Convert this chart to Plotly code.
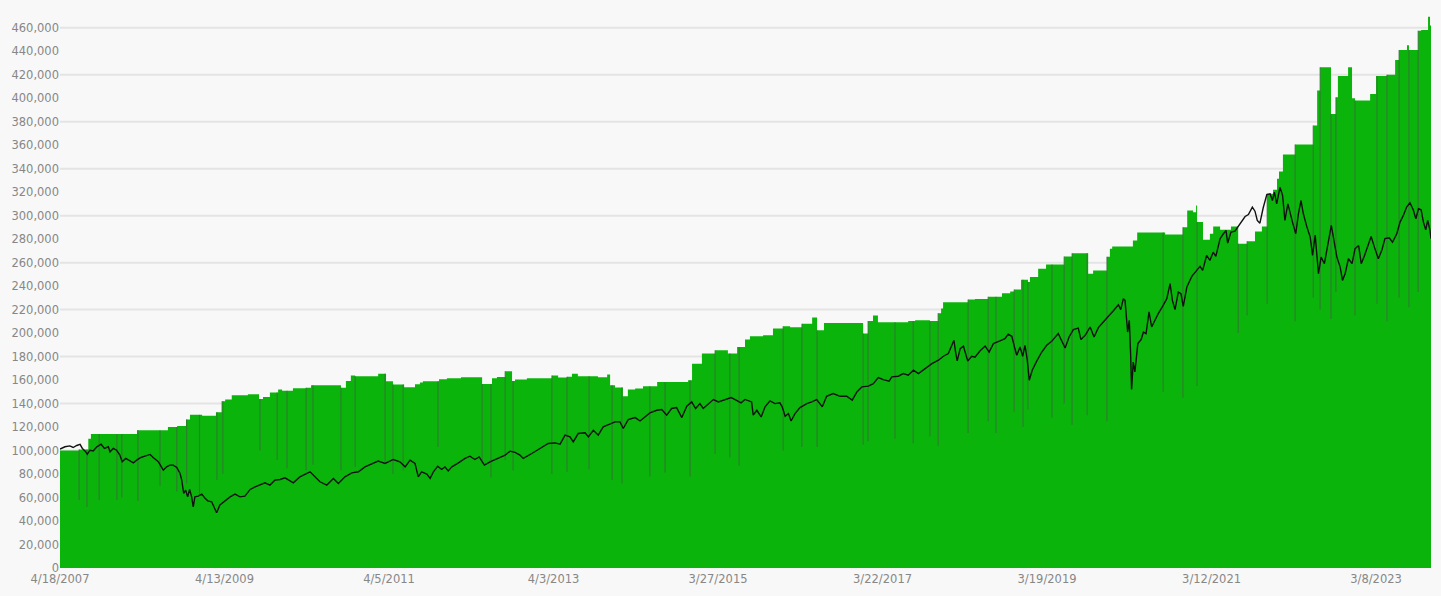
import bisect
import plotly.graph_objects as go

# ---------------- data ----------------
# x axis: trading-day number counted from 4/18/2007 (category-like axis)
tick_days = [0, 500, 1000, 1500, 2000, 2500, 3000, 3500, 4000]
tick_labels = ["4/18/2007", "4/13/2009", "4/5/2011", "4/3/2013", "3/27/2015",
               "3/22/2017", "3/19/2019", "3/12/2021", "3/8/2023"]
last_day = 4167

y_tick_values = list(range(0, 460001, 20000))
grid_values = list(range(20000, 460001, 40000))

# portfolio value: level that holds from the given trading day on
step_day = [0, 58, 86, 94, 234, 328, 356, 383, 395, 432, 474, 491, 502, 522, 571, 605, 617, 638,
            663, 675, 708, 748, 763, 854, 869, 884, 897, 967, 991, 1012, 1046, 1079, 1094, 1103,
            1152, 1176, 1219, 1283, 1313, 1328, 1353, 1374, 1383, 1419, 1495, 1514, 1541, 1556,
            1574, 1635, 1663, 1672, 1687, 1711, 1726, 1748, 1772, 1815, 1909, 1921, 1951, 1991,
            2030, 2058, 2082, 2097, 2137, 2167, 2198, 2219, 2255, 2286, 2301, 2322, 2441, 2456,
            2471, 2486, 2578, 2599, 2644, 2669, 2678, 2684, 2760, 2781, 2821, 2863, 2888, 2900,
            2921, 2942, 2948, 2973, 2997, 3052, 3076, 3125, 3140, 3182, 3191, 3198, 3261, 3274,
            3359, 3413, 3426, 3444, 3453, 3456, 3474, 3495, 3505, 3526, 3559, 3581, 3608, 3632,
            3653, 3669, 3687, 3699, 3705, 3717, 3754, 3809, 3821, 3830, 3863, 3878, 3884, 3915,
            3927, 3936, 3982, 4000, 4033, 4058, 4070, 4094, 4100, 4128, 4137, 4158, 4164, 4167]
step_value = [100000, 101000, 110000, 114000, 117300, 120000, 121000, 126400, 130400, 129600,
              132600, 142000, 143400, 147000, 148000, 144000, 145600, 149400,
              152000, 151000, 153000, 153500, 155600, 153500, 159300, 163800, 163300, 165500,
              159000, 156200, 153900, 156500, 158000, 159000,
              160700, 161600, 162400, 156700, 161600, 162700, 167500, 159300, 160400, 161600,
              164000, 162200, 162800, 165500,
              163300, 162500, 164700, 155600, 153600, 146200, 152000, 152800, 154800, 158400,
              159900, 174000, 182600, 185400,
              182600, 188200, 194500, 197300, 198100, 204000, 205800, 204900, 208000, 213200,
              202400, 208600, 199600, 210300,
              214900, 209200, 210300, 210900, 210300, 217000, 221000, 226200, 228700, 229000,
              231000, 234000, 235500, 237200,
              245500, 243600, 247700, 254800, 258500, 265300, 268100, 250600, 253400, 265000,
              271800, 273800, 278900, 285700,
              284000, 290200, 304400, 303000, 308700, 294500, 279500, 284600, 290800, 288000,
              290800, 276000, 278300, 286600,
              290800, 318600, 322000, 331400, 337600, 352000, 360500, 376700, 406500, 426300,
              386600, 400800, 419000, 426300,
              400000, 398000, 403600, 419000, 420000, 432600, 441000, 445000, 441000, 457500,
              458000, 469400, 462000, 462000]

# single-day drops of the portfolio value (trading day, low value)
dip_day = [58, 82, 119, 173, 188, 237, 304, 355, 385, 424, 477, 495,
           608, 660, 690, 748, 769, 854, 897, 988, 1012, 1043,
           1149, 1283, 1310, 1353, 1377, 1495,
           1541, 1608, 1678, 1708, 1793, 1839, 1915, 1991,
           2036, 2064, 2198, 2255, 2301, 2441, 2456, 2538, 2593, 2644, 2669, 2760,
           2821, 2845, 2900, 2927, 2942, 3015, 3052, 3076, 3122, 3182, 3353, 3413, 3456,
           3581, 3608, 3669, 3754, 3809, 3830, 3863, 3878, 3936, 4003, 4033, 4070, 4100, 4128]
dip_low = [58000, 52000, 58000, 58000, 60000, 57000, 70000, 65000, 72000, 62000, 75000, 80000,
           100000, 92000, 85000, 83000, 88000, 83000, 86000, 89000, 80000, 83000,
           103000, 89000, 77000, 92000, 83000, 80000,
           82000, 84000, 75000, 72000, 78000, 81000, 78000, 97000,
           94000, 87000, 100000, 103000, 103000, 105000, 108000, 110000, 106000, 112000, 104000, 115000,
           125000, 115000, 133000, 120000, 135000, 128000, 140000, 122000, 130000, 125000, 150000, 145000, 155000,
           200000, 215000, 225000, 210000, 230000, 220000, 212000, 235000, 215000, 225000, 210000, 230000, 222000, 235000]

# benchmark line
bench_day = [0, 15, 30, 40, 51, 61, 68, 76, 83, 91, 101, 112, 125, 135, 147, 152, 162, 172, 182, 189,
             200, 210, 223, 233, 246, 258, 274, 284, 299, 314, 324, 334, 344, 355, 365, 370, 376, 382, 388, 394,
             400, 405, 410, 420, 431, 441, 449, 461, 469, 476, 486, 502, 517, 532, 547, 562, 578, 593, 608, 623,
             638, 653, 669, 684, 709, 729, 760, 775, 790, 811, 831, 846, 866, 887, 907, 927, 947, 967, 988, 1013,
             1033, 1049, 1064, 1079, 1089, 1099, 1115, 1125, 1135, 1148, 1160, 1170, 1180, 1191, 1211, 1231, 1246, 1261, 1274, 1290,
             1307, 1322, 1337, 1353, 1368, 1383, 1398, 1408, 1434, 1459, 1484, 1505, 1520, 1535, 1550, 1560, 1575, 1596, 1606, 1621,
             1636, 1651, 1672, 1687, 1702, 1712, 1727, 1748, 1763, 1778, 1793, 1814, 1829, 1844, 1859, 1874, 1890, 1905, 1920, 1932,
             1945, 1955, 1971, 1986, 2001, 2021, 2040, 2052, 2070, 2082, 2097, 2102, 2107, 2118, 2131, 2143, 2158, 2173, 2188, 2195,
             2204, 2214, 2222, 2234, 2249, 2270, 2285, 2300, 2317, 2330, 2350, 2371, 2391, 2408, 2422, 2437, 2457, 2472, 2487, 2502,
             2520, 2528, 2548, 2563, 2578, 2594, 2609, 2629, 2650, 2670, 2685, 2700, 2710, 2717, 2722, 2727, 2736, 2746, 2751, 2759,
             2771, 2781, 2796, 2812, 2824, 2837, 2857, 2872, 2882, 2893, 2901, 2908, 2918, 2926, 2933, 2940, 2946, 2955, 2969, 2984,
             2999, 3014, 3034, 3046, 3055, 3067, 3080, 3095, 3103, 3116, 3131, 3143, 3156, 3171, 3186, 3201, 3217, 3224, 3232, 3237,
             3245, 3250, 3254, 3257, 3262, 3267, 3276, 3286, 3293, 3301, 3310, 3318, 3328, 3338, 3353, 3364, 3374, 3381, 3389, 3399,
             3407, 3414, 3425, 3440, 3455, 3465, 3473, 3485, 3495, 3505, 3513, 3526, 3536, 3544, 3549, 3559, 3571, 3579, 3592, 3602,
             3612, 3624, 3632, 3639, 3647, 3657, 3668, 3678, 3685, 3691, 3698, 3708, 3716, 3723, 3732, 3739, 3746, 3756, 3764, 3772,
             3779, 3790, 3800, 3807, 3815, 3825, 3833, 3843, 3854, 3864, 3872, 3881, 3891, 3898, 3906, 3916, 3927, 3936, 3947, 3955,
             3965, 3977, 3985, 3995, 4007, 4018, 4027, 4040, 4050, 4063, 4073, 4083, 4093, 4103, 4113, 4121, 4129, 4137, 4144, 4151,
             4157, 4164, 4167]
bench_value = [101200, 103200, 104000, 102600, 104300, 105200, 101800, 99700, 96900, 100300, 99700, 103200, 105400, 101800, 103200, 98900, 101800, 100300, 96100, 90400,
               93300, 91800, 89500, 91800, 94100, 95200, 96700, 93800, 90400, 83300, 86100, 87600, 87600, 85600, 80500, 74800, 63500, 66300, 60600, 66900,
               60600, 52100, 60600, 61200, 62900, 59300, 57200, 56400, 52100, 47000, 53600, 57200, 60600, 62900, 60600, 61200, 66900, 69100, 70600, 72500,
               70600, 74800, 75400, 76800, 72500, 77600, 81900, 77600, 73400, 70600, 76300, 72000, 77600, 81000, 81900, 86100, 88400, 91000, 89000, 92400,
               90400, 86100, 91800, 89000, 77600, 81900, 79900, 76300, 81900, 86700, 83900, 86100, 82700, 86100, 89500, 93300, 95200, 92400, 94600, 87600,
               90400, 92400, 94100, 96100, 99500, 98500, 96100, 93300, 97500, 101800, 106000, 106500, 105400, 113100, 111600, 107400, 114500, 115100, 111600, 117300,
               113100, 120200, 122400, 124400, 124400, 118800, 126400, 128100, 125200, 128600, 132000, 134300, 134900, 130100, 135800, 136600, 128100, 137700, 141400, 135800,
               140000, 135800, 139400, 143400, 141400, 143400, 145100, 143400, 140600, 143500, 142300, 141400, 130100, 134300, 128600, 137200, 142300, 140000, 140600, 137200,
               129200, 131500, 125200, 131500, 136600, 140000, 141400, 143400, 137200, 146200, 148500, 146200, 146200, 142900, 149900, 154200, 154800, 157000, 162200, 160400,
               159000, 162700, 163300, 165500, 164100, 168400, 165500, 169800, 174000, 176900, 180300, 182600, 189600, 193900, 183900, 176300, 186800, 188800, 183900, 176300,
               180300, 179500, 184800, 189000, 183900, 191100, 193300, 195300, 199000, 197300, 188200, 181100, 188200, 180300, 189600, 176900, 159900, 168400, 176300, 183900,
               189600, 193000, 199600, 192400, 187300, 196700, 203000, 204300, 194500, 198100, 205200, 196700, 204700, 209400, 213700, 218800, 224200, 220000, 229300, 227900,
               200900, 210900, 182600, 152000, 175400, 166900, 191100, 194500, 200900, 199600, 218000, 205200, 210900, 216600, 223600, 229300, 242100, 227900, 220000, 234900,
               233600, 222800, 239200, 248300, 253400, 256800, 253400, 266100, 261900, 268900, 265300, 280400, 284600, 287400, 276600, 286000, 286800, 290200, 295900, 299300,
               301000, 307300, 303800, 295900, 293600, 306700, 318000, 318600, 312900, 320000, 310100, 324200, 317200, 295900, 310100, 301600, 294500, 284600, 301600, 312900,
               301600, 290200, 281700, 266100, 283400, 250600, 264700, 259100, 276100, 291700, 278900, 264700, 256200, 244900, 250600, 263300, 259100, 271800, 274600, 259100,
               266100, 276100, 282300, 273200, 263300, 271000, 280400, 281200, 277400, 284600, 294500, 300200, 307300, 311000, 305000, 297400, 305900, 305000, 294500, 288000,
               295900, 287400, 280400]

assert len(step_day) == len(step_value)
assert len(dip_day) == len(dip_low)
assert len(bench_day) == len(bench_value)

# ---------------- styles ----------------
GREEN = "#0bb40b"
BG = "#f8f8f8"
TICK_COLOR = "#878787"
FONT = "DejaVu Sans"

# vertical segments of the one-day drops, from the low up to the holding level
dip_x, dip_y = [], []
for d, low in zip(dip_day, dip_low):
    level = step_value[bisect.bisect_right(step_day, d) - 1]
    dip_x += [d, d, None]
    dip_y += [low, level, None]

fig = go.Figure()
fig.add_trace(go.Scatter(
    x=step_day, y=step_value, mode="lines", line=dict(width=0, color=GREEN, shape="hv"),
    fill="tozeroy", fillcolor=GREEN, hoverinfo="skip", showlegend=False))
fig.add_trace(go.Scatter(
    x=dip_x, y=dip_y, mode="lines", line=dict(width=1.2, color="rgba(60,105,60,0.7)"),
    hoverinfo="skip", showlegend=False))
fig.add_trace(go.Scatter(
    x=bench_day, y=bench_value, mode="lines", line=dict(width=1.4, color="#111111"),
    showlegend=False))

shapes = [dict(type="line", xref="paper", x0=0, x1=1, yref="y", y0=v, y1=v,
               layer="below", line=dict(color="#e4e4e4", width=2)) for v in grid_values]

fig.update_layout(
    width=1441, height=596,
    margin=dict(l=60, r=10, t=16, b=28, autoexpand=False),
    paper_bgcolor=BG, plot_bgcolor=BG,
    shapes=shapes,
    font=dict(family=FONT, size=11.5, color=TICK_COLOR),
    xaxis=dict(range=[0, last_day], tickmode="array", tickvals=tick_days, ticktext=tick_labels,
               showgrid=False, zeroline=False, showline=False, ticks="", automargin=False,
               ticklabelstandoff=2,
               tickfont=dict(family=FONT, size=11.5, color=TICK_COLOR)),
    yaxis=dict(range=[0, 470000], tickmode="array", tickvals=y_tick_values,
               tickformat=",d", showgrid=False, zeroline=False, showline=False, ticks="",
               automargin=False,
               tickfont=dict(family=FONT, size=11.5, color=TICK_COLOR)),
)

fig.write_html(
    "out.html",
    config={"displayModeBar": False},
    post_script="document.body.style.margin='0';document.body.style.background='%s';"
                "document.documentElement.style.overflow='hidden';" % BG,
)
